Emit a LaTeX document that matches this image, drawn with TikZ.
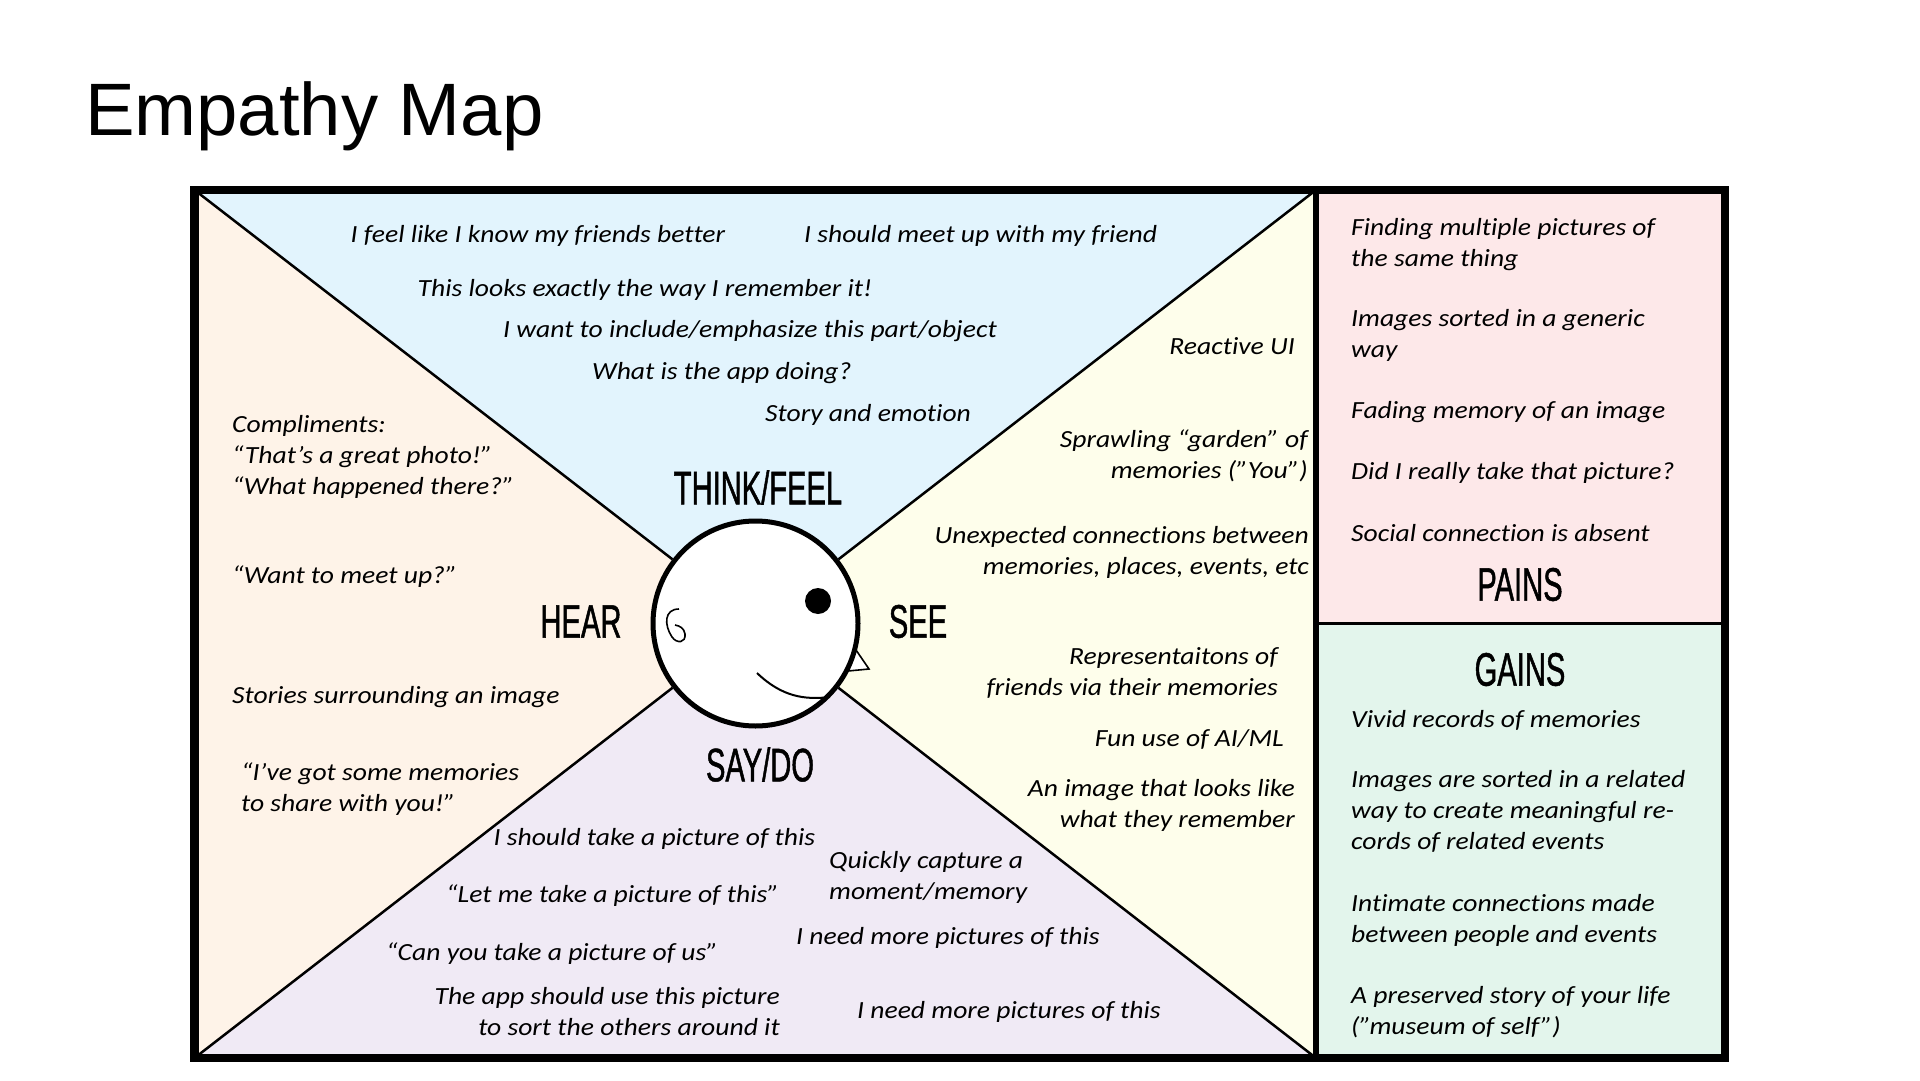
\documentclass[tikz,border=0pt]{standalone}
\usepackage{fontspec}
\setmainfont{Liberation Sans}
\newfontfamily\notefamily[FakeStretch=1.12,Ligatures=NoCommon]{Carlito}
\newfontfamily\headfamily[FakeStretch=0.62,FakeBold=1]{Liberation Sans}
\usetikzlibrary{
  positioning
}

\definecolor{thinkBlue}{HTML}{E2F4FD}
\definecolor{hearOrange}{HTML}{FEF3E8}
\definecolor{seeYellow}{HTML}{FEFEEB}
\definecolor{sayPurple}{HTML}{F0EAF5}
\definecolor{painsRed}{HTML}{FDE8E9}
\definecolor{gainsGreen}{HTML}{E3F5EC}

\begin{document}
\begin{tikzpicture}[
    x=1pt,y=-1pt,
    noteNode/.style={inner sep=0pt,font=\notefamily\itshape\fontsize{24.65}{31}\selectfont},
    leftNote/.style={noteNode,align=left,anchor=west},
    rightNote/.style={noteNode,align=right,anchor=east},
    headNode/.style={inner sep=0pt,font=\headfamily\fontsize{47}{47}\selectfont},
    faceLine/.style={line width=1.6pt,black},
  ]
    \useasboundingbox (0,0) rectangle (1920,1081);

    % frame corners
    \coordinate (topLeft) at (194.5,190);
    \coordinate (topMid) at (1316,190);
    \coordinate (topRight) at (1725,190);
    \coordinate (botLeft) at (194.5,1058);
    \coordinate (botMid) at (1316,1058);
    \coordinate (botRight) at (1725,1058);
    \coordinate (midMid) at (1316,623);
    \coordinate (midRight) at (1725,623);
    \coordinate (centre) at (755.5,623.5);

    % coloured fields
    \fill[thinkBlue] (topLeft) -- (topMid) -- (centre) -- cycle;
    \fill[hearOrange] (topLeft) -- (botLeft) -- (centre) -- cycle;
    \fill[seeYellow] (topMid) -- (botMid) -- (centre) -- cycle;
    \fill[sayPurple] (botLeft) -- (botMid) -- (centre) -- cycle;
    \fill[painsRed] (topMid) rectangle (midRight);
    \fill[gainsGreen] (midMid) rectangle (botRight);

    % head
    \draw[line width=1.6pt,fill=white] (856,650) -- (869,669) -- (848,671) -- cycle;
    \node[draw,circle,fill=white,line width=5pt,minimum size=205pt,inner sep=0pt] (head) at (centre) {};
    \node[circle,fill=black,minimum size=26pt,inner sep=0pt] (eye) at (818,601) {};
    \draw[faceLine] (679,609) .. controls (664,609) and (664,625) .. (672,637)
      .. controls (677,644) and (686,643) .. (685,634) .. controls (684,628) and (680,626) .. (675,625);
    \draw[line width=2pt] (757,673) .. controls (782,697) and (805,700) .. (830,697);

    % diagonals
    \draw[line width=2.5pt] (topLeft) -- (head);
    \draw[line width=2.5pt] (topMid) -- (head);
    \draw[line width=2.5pt] (botLeft) -- (head);
    \draw[line width=2.5pt] (botMid) -- (head);

    % frame
    \draw[line width=6pt] (topMid) -- (botMid);
    \draw[line width=3pt] (midMid) -- (midRight);
    \draw[line width=8.5pt] (topLeft) rectangle (botRight);

    % title
    \node[inner sep=0pt,anchor=base west,font=\fontsize{74.3}{74.3}\selectfont] (title) at (85,135.5) {Empathy Map};

    % quadrant labels
    \node[headNode] (thinkLabel) at (758,487.5) {THINK/FEEL};
    \node[headNode] (hearLabel) at (581,621.5) {HEAR};
    \node[headNode] (seeLabel) at (918,621.5) {SEE};
    \node[headNode] (sayLabel) at (760,764.5) {SAY/DO};
    \node[headNode] (painsLabel) at (1520,584.5) {PAINS};
    \node[headNode] (gainsLabel) at (1520,669.5) {GAINS};

    % think/feel
    \node[leftNote] (thinkA) at (350.5,236) {I feel like I know my friends better};
    \node[leftNote] (thinkB) at (804,236) {I should meet up with my friend};
    \node[leftNote] (thinkC) at (417.5,290) {This looks exactly the way I remember it!};
    \node[leftNote] (thinkD) at (503,331) {I want to include/emphasize this part/object};
    \node[leftNote] (thinkE) at (592,373) {What is the app doing?};
    \node[leftNote] (thinkF) at (765,415) {Story and emotion};

    % hear
    \node[leftNote] (hearA) at (232,457) {Compliments:\\“That’s a great photo!”\\“What happened there?”};
    \node[leftNote] (hearB) at (232,577) {“Want to meet up?”};
    \node[leftNote] (hearC) at (232,697) {Stories surrounding an image};
    \node[leftNote] (hearD) at (241,789) {“I’ve got some memories\\to share with you!”};

    % say/do
    \node[leftNote] (sayA) at (493.5,838.5) {I should take a picture of this};
    \node[leftNote] (sayB) at (446,895.5) {“Let me take a picture of this”};
    \node[leftNote] (sayC) at (386,953.5) {“Can you take a picture of us”};
    \node[rightNote] (sayD) at (780,1012) {The app should use this picture\\to sort the others around it};
    \node[leftNote] (sayE) at (829,877.5) {Quickly capture a\\moment/memory};
    \node[leftNote] (sayF) at (796,937.5) {I need more pictures of this};
    \node[leftNote] (sayG) at (857,1011.5) {I need more pictures of this};

    % see
    \node[rightNote] (seeA) at (1295,346) {Reactive UI};
    \node[rightNote] (seeB) at (1308,456) {Sprawling “garden” of\\memories (”You”)};
    \node[rightNote] (seeC) at (1309,552) {Unexpected connections between\\memories, places, events, etc};
    \node[rightNote] (seeD) at (1278,673) {Representaitons of\\friends via their memories};
    \node[rightNote] (seeE) at (1284,739) {Fun use of AI/ML};
    \node[rightNote] (seeF) at (1295,805) {An image that looks like\\what they remember};

    % pains
    \node[leftNote] (painA) at (1351,244.5) {Finding multiple pictures of\\the same thing};
    \node[leftNote] (painB) at (1351,335) {Images sorted in a generic\\way};
    \node[leftNote] (painC) at (1351,412) {Fading memory of an image};
    \node[leftNote] (painD) at (1351,473) {Did I really take that picture?};
    \node[leftNote] (painE) at (1351,533.5) {Social connection is absent};

    % gains
    \node[leftNote] (gainA) at (1351,720) {Vivid records of memories};
    \node[leftNote] (gainB) at (1351,811.5) {Images are sorted in a related\\way to create meaningful re-\\cords of related events};
    \node[leftNote] (gainC) at (1351,920) {Intimate connections made\\between people and events};
    \node[leftNote] (gainD) at (1351,1012) {A preserved story of your life\\(”museum of self”)};
  \end{tikzpicture}
\end{document}
